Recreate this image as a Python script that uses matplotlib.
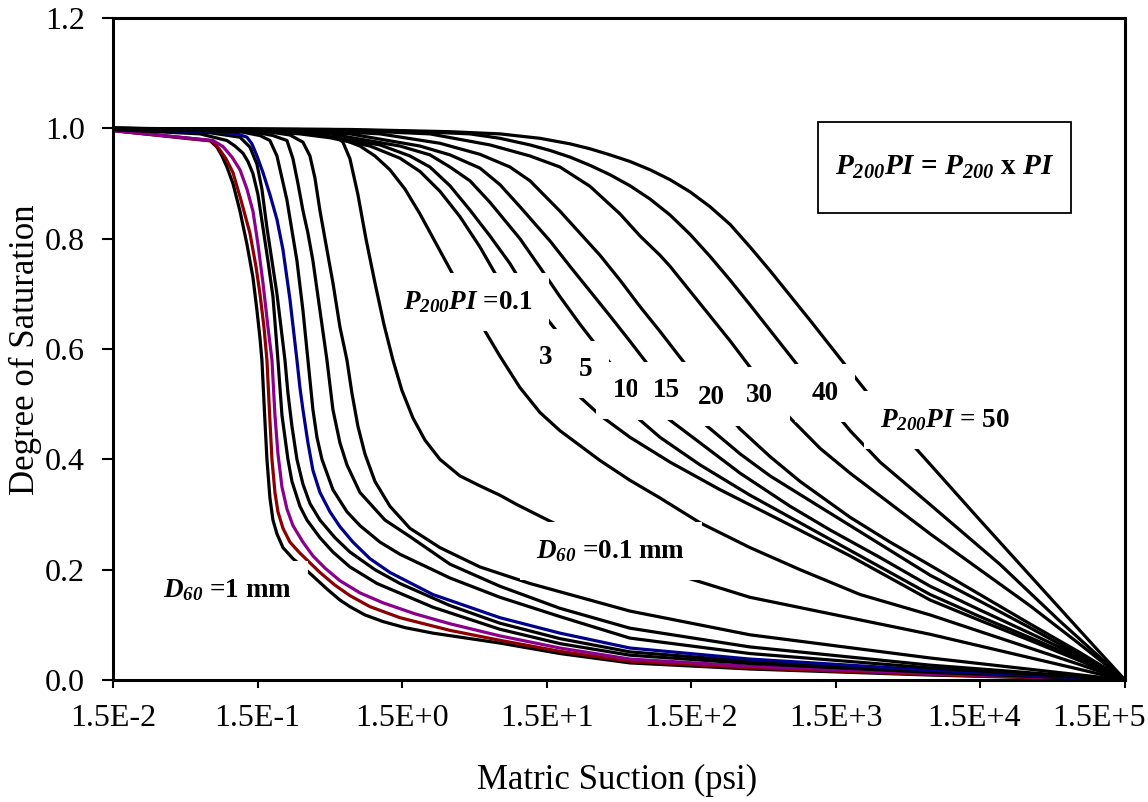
"""
    Degree of saturation vs matric suction (soil-water characteristic curves)
"""

import matplotlib
matplotlib.use('Agg')
import matplotlib.pyplot as plt
from matplotlib.patches import Rectangle
from matplotlib.ticker import NullLocator
from matplotlib.transforms import ScaledTranslation

plt.rcParams['font.family'] = ['Liberation Serif', 'DejaVu Serif']
plt.rcParams['mathtext.fontset'] = 'custom'
plt.rcParams['mathtext.rm'] = 'Liberation Serif:bold:italic'
plt.rcParams['mathtext.it'] = 'Liberation Serif:bold:italic'
plt.rcParams['mathtext.bf'] = 'Liberation Serif:bold'

# ---- granular soils (P200PI = 0), D60 from 1 mm (left) to 0.1 mm (right)
g1_psi = [0.015, 0.0511, 0.0703, 0.0786, 0.0851, 0.0921, 0.1014, 0.1134, 0.1267, 0.1394, 0.1486,
          0.1559, 0.1608, 0.1687, 0.1742, 0.1827, 0.1917, 0.2043, 0.2249, 0.2636, 0.3091, 0.453,
          0.5571, 0.6533, 0.8294, 1.105, 1.569, 2.449, 7.118, 18.52, 56.4, 381, 6700, 150000]
g1_sat = [0.996, 0.982, 0.978, 0.966, 0.95, 0.93, 0.90, 0.85, 0.79, 0.73, 0.67,
          0.62, 0.58, 0.47, 0.40, 0.33, 0.29, 0.265, 0.24, 0.22, 0.205, 0.165,
          0.145, 0.133, 0.118, 0.106, 0.095, 0.085, 0.067, 0.048, 0.031, 0.02, 0.009, 0.0]

g2_psi = [0.015, 0.0511, 0.0725, 0.0812, 0.0907, 0.1014, 0.1152, 0.1329, 0.1462, 0.1559, 0.1661,
          0.1742, 0.1827, 0.1887, 0.1979, 0.2076, 0.2249, 0.2513, 0.2946, 0.4052, 0.5145, 0.6533,
          0.8985, 1.448, 3.212, 7.118, 18.52, 56.4, 381, 6700, 150000]
g2_sat = [0.996, 0.981, 0.977, 0.963, 0.945, 0.92, 0.87, 0.81, 0.75, 0.70, 0.64,
          0.58, 0.47, 0.40, 0.34, 0.305, 0.275, 0.25, 0.23, 0.195, 0.172, 0.153,
          0.133, 0.113, 0.09, 0.072, 0.052, 0.034, 0.022, 0.01, 0.0]

g3_psi = [0.015, 0.0511, 0.0737, 0.0865, 0.0998, 0.1134, 0.1267, 0.1394, 0.151, 0.1635, 0.177,
          0.1887, 0.1979, 0.2076, 0.2213, 0.2396, 0.2636, 0.3091, 0.3624, 0.4387, 0.5571, 0.7661,
          1.105, 1.839, 3.212, 7.118, 18.52, 56.4, 381, 6700, 150000]
g3_sat = [0.996, 0.982, 0.978, 0.967, 0.948, 0.925, 0.89, 0.85, 0.79, 0.72, 0.64,
          0.58, 0.48, 0.41, 0.35, 0.31, 0.28, 0.25, 0.225, 0.203, 0.18, 0.158,
          0.14, 0.12, 0.102, 0.08, 0.058, 0.038, 0.025, 0.012, 0.0]

g4_psi = [0.015, 0.06, 0.0921, 0.1047, 0.1189, 0.1287, 0.1394, 0.151, 0.1635, 0.177, 0.1917,
          0.2076, 0.2213, 0.2321, 0.2434, 0.2594, 0.2946, 0.3294, 0.4052, 0.4983, 0.6533, 1.005,
          2.449, 7.118, 18.52, 56.4, 381, 6700, 150000]
g4_sat = [0.998, 0.99, 0.978, 0.968, 0.955, 0.94, 0.918, 0.88, 0.82, 0.76, 0.695,
          0.58, 0.48, 0.44, 0.40, 0.36, 0.315, 0.29, 0.258, 0.232, 0.205, 0.175,
          0.132, 0.092, 0.066, 0.045, 0.03, 0.014, 0.0]

g5_psi = [0.015, 0.0703, 0.1134, 0.1329, 0.1486, 0.1608, 0.1742, 0.1887, 0.2043, 0.2178, 0.2321,
          0.2434, 0.2594, 0.2809, 0.3091, 0.3455, 0.4052, 0.5145, 0.6533, 0.973, 1.448, 3.212,
          7.118, 18.52, 56.4, 381, 6700, 150000]
g5_sat = [0.998, 0.992, 0.984, 0.966, 0.935, 0.89, 0.82, 0.76, 0.70, 0.64, 0.58,
          0.52, 0.46, 0.40, 0.355, 0.32, 0.29, 0.258, 0.232, 0.20, 0.175, 0.135,
          0.103, 0.075, 0.051, 0.034, 0.016, 0.0]

g6_psi = [0.015, 0.0824, 0.1081, 0.1267, 0.1372, 0.1486, 0.1635, 0.1827, 0.2043, 0.2249, 0.2513,
          0.2809, 0.2946, 0.3091, 0.3347, 0.3624, 0.4052, 0.4751, 0.5571, 0.6852, 0.8985, 1.235,
          2.449, 7.118, 18.52, 56.4, 381, 6700, 150000]
g6_sat = [0.999, 0.993, 0.99, 0.984, 0.972, 0.95, 0.92, 0.88, 0.835, 0.78, 0.69,
          0.58, 0.53, 0.49, 0.43, 0.38, 0.34, 0.305, 0.278, 0.25, 0.22, 0.195,
          0.155, 0.113, 0.085, 0.058, 0.038, 0.018, 0.0]

g7_psi = [0.015, 0.1134, 0.1559, 0.1827, 0.2043, 0.2213, 0.2396, 0.2594, 0.2809, 0.3091, 0.3347,
          0.3624, 0.3863, 0.4184, 0.4983, 0.623, 0.7661, 1.054, 1.448, 3.212, 7.118, 18.52,
          56.4, 381, 6700, 150000]
g7_sat = [0.999, 0.994, 0.987, 0.978, 0.95, 0.91, 0.87, 0.815, 0.76, 0.67, 0.58,
          0.49, 0.44, 0.40, 0.345, 0.305, 0.28, 0.25, 0.228, 0.185, 0.15, 0.115,
          0.076, 0.048, 0.022, 0.0]

g8_psi = [0.015, 0.1329, 0.1917, 0.2396, 0.2636, 0.2855, 0.3091, 0.3347, 0.3624, 0.4052, 0.453,
          0.4983, 0.5571, 0.623, 0.7661, 1.141, 1.699, 3.212, 7.118, 18.52, 56.4, 381,
          6700, 150000]
g8_sat = [0.999, 0.995, 0.987, 0.978, 0.945, 0.90, 0.851, 0.81, 0.76, 0.67, 0.58,
          0.49, 0.43, 0.39, 0.34, 0.29, 0.26, 0.21, 0.17, 0.13, 0.094, 0.06,
          0.027, 0.0]

g9_psi = [0.015, 0.1559, 0.2513, 0.3091, 0.3455, 0.3742, 0.4052, 0.453, 0.4983, 0.5571, 0.623,
          0.6744, 0.7419, 0.8294, 0.973, 1.235, 1.699, 2.739, 5.176, 11.48, 25.45, 56.4,
          381, 6700, 150000]
g9_sat = [1.0, 0.996, 0.988, 0.975, 0.95, 0.91, 0.851, 0.78, 0.72, 0.64, 0.58,
          0.52, 0.46, 0.41, 0.36, 0.315, 0.275, 0.24, 0.205, 0.175, 0.15, 0.125,
          0.082, 0.04, 0.0]

g10_psi = [0.015, 0.2946, 0.4983, 0.5844, 0.6533, 0.7419, 0.8428, 0.973, 1.122, 1.296, 1.495,
           1.782, 2.157, 2.739, 3.765, 5.176, 7.118, 9.334, 15.78, 25.45, 69.4, 381,
           6700, 150000]
g10_sat = [1.0, 0.996, 0.99, 0.975, 0.945, 0.88, 0.80, 0.72, 0.645, 0.58, 0.525,
           0.475, 0.435, 0.40, 0.37, 0.352, 0.335, 0.318, 0.288, 0.262, 0.21, 0.15,
           0.083, 0.0]

# ---- fine-grained soils, P200PI = 0.1 ... 50
p01_psi = [0.015, 0.0824, 0.1827, 0.3455, 0.5571, 0.7661, 0.973, 1.235, 1.569, 1.992, 2.529,
           3.212, 4.078, 5.18, 7.123, 9.797, 13.47, 18.52, 35.04, 56.51, 91.13, 172.4,
           382.4, 848.1, 2206, 6729, 14860, 32900, 72900, 150000]
p01_sat = [1.0, 0.998, 0.995, 0.99, 0.982, 0.968, 0.95, 0.925, 0.89, 0.845, 0.795,
           0.745, 0.695, 0.648, 0.587, 0.53, 0.485, 0.452, 0.398, 0.362, 0.33, 0.285,
           0.24, 0.20, 0.155, 0.118, 0.088, 0.058, 0.028, 0.0]

p3_psi = [0.015, 0.0966, 0.1827, 0.2946, 0.4751, 0.8985, 1.448, 1.992, 2.739, 3.766, 5.18,
          7.123, 9.797, 13.47, 18.52, 25.47, 35.04, 56.51, 106.9, 237.1, 616.7, 1881,
          6729, 14860, 32900, 72900, 150000]
p3_sat = [1.0, 0.998, 0.994, 0.99, 0.983, 0.968, 0.946, 0.922, 0.886, 0.84, 0.785,
          0.722, 0.658, 0.60, 0.553, 0.513, 0.48, 0.44, 0.395, 0.345, 0.29, 0.225,
          0.145, 0.108, 0.072, 0.035, 0.0]

p5_psi = [0.015, 0.1134, 0.2143, 0.3455, 1.054, 1.699, 2.336, 3.212, 4.417, 6.074, 8.353,
          11.49, 15.8, 21.72, 29.88, 41.09, 56.51, 91.13, 172.4, 382.4, 848.1, 2206,
          6729, 14860, 32900, 72900, 150000]
p5_sat = [1.0, 0.998, 0.994, 0.99, 0.97, 0.95, 0.93, 0.896, 0.852, 0.805, 0.755,
          0.695, 0.648, 0.602, 0.56, 0.522, 0.487, 0.44, 0.39, 0.335, 0.285, 0.225,
          0.155, 0.115, 0.077, 0.038, 0.0]

p10_psi = [0.015, 0.1329, 0.2946, 0.4751, 1.448, 2.336, 3.212, 4.417, 6.074, 8.353, 9.797,
           13.47, 18.52, 25.47, 35.04, 48.18, 66.27, 106.9, 172.4, 326.1, 723.2, 1368,
           3034, 6729, 14860, 32900, 72900, 150000]
p10_sat = [1.0, 0.998, 0.994, 0.99, 0.968, 0.952, 0.93, 0.905, 0.866, 0.822, 0.80,
           0.748, 0.695, 0.645, 0.598, 0.552, 0.515, 0.471, 0.43, 0.375, 0.315, 0.272,
           0.222, 0.17, 0.127, 0.085, 0.042, 0.0]

p15_psi = [0.015, 0.1559, 0.3455, 0.6533, 1.992, 3.212, 5.18, 7.123, 9.797, 15.8, 21.72,
           29.88, 41.09, 56.51, 77.71, 106.9, 172.4, 326.1, 525.9, 994.6, 1881, 3558,
           6729, 14860, 32900, 72900, 150000]
p15_sat = [1.0, 0.998, 0.994, 0.99, 0.968, 0.952, 0.928, 0.898, 0.858, 0.796, 0.75,
           0.705, 0.66, 0.614, 0.567, 0.525, 0.471, 0.41, 0.37, 0.325, 0.28, 0.235,
           0.19, 0.143, 0.095, 0.045, 0.0]

p20_psi = [0.015, 0.2143, 0.5571, 1.054, 2.739, 5.18, 8.353, 11.49, 18.52, 25.47, 35.04,
           48.18, 66.27, 91.13, 125.3, 172.4, 237.1, 326.1, 525.9, 848.1, 1881, 3558,
           6729, 14860, 32900, 72900, 150000]
p20_sat = [1.0, 0.998, 0.994, 0.99, 0.973, 0.953, 0.93, 0.905, 0.85, 0.81, 0.77,
           0.725, 0.677, 0.632, 0.585, 0.54, 0.497, 0.455, 0.405, 0.36, 0.295, 0.25,
           0.208, 0.155, 0.102, 0.05, 0.0]

p30_psi = [0.015, 0.2946, 1.054, 2.336, 6.074, 11.49, 18.52, 29.88, 48.18, 66.27, 91.13,
           106.9, 147.0, 202.2, 278.0, 382.4, 525.9, 723.2, 1166, 1881, 3558, 6729,
           14860, 32900, 72900, 150000]
p30_sat = [1.0, 0.998, 0.994, 0.99, 0.97, 0.95, 0.93, 0.895, 0.845, 0.805, 0.77,
           0.75, 0.705, 0.66, 0.615, 0.567, 0.518, 0.475, 0.42, 0.375, 0.32, 0.265,
           0.20, 0.135, 0.065, 0.0]

p40_psi = [0.015, 0.4751, 1.992, 4.417, 7.123, 11.49, 15.8, 21.72, 29.88, 41.09, 56.51,
           77.71, 106.9, 147.0, 202.2, 278.0, 382.4, 525.9, 723.2, 994.6, 1368, 1881,
           3034, 6729, 20400, 53000, 150000]
p40_sat = [1.0, 0.998, 0.994, 0.99, 0.982, 0.97, 0.96, 0.948, 0.933, 0.916, 0.896,
           0.872, 0.843, 0.808, 0.768, 0.725, 0.68, 0.634, 0.588, 0.542, 0.496, 0.452,
           0.395, 0.318, 0.21, 0.107, 0.0]

p50_psi = [0.015, 0.6533, 3.212, 7.123, 13.47, 21.72, 29.88, 41.09, 56.51, 77.71, 106.9,
           147.0, 202.2, 278.0, 382.4, 525.9, 723.2, 994.6, 1368, 1881, 3034, 6729,
           14860, 32900, 72900, 150000]
p50_sat = [1.0, 0.998, 0.994, 0.99, 0.982, 0.972, 0.963, 0.952, 0.94, 0.925, 0.907,
           0.885, 0.858, 0.826, 0.785, 0.742, 0.697, 0.652, 0.606, 0.56, 0.492, 0.391,
           0.29, 0.19, 0.09, 0.0]

granular = [(g1_psi, g1_sat, 'black'), (g2_psi, g2_sat, '#8B0000'), (g3_psi, g3_sat, '#8B008B'),
            (g4_psi, g4_sat, 'black'), (g5_psi, g5_sat, 'black'), (g6_psi, g6_sat, '#00008B'),
            (g7_psi, g7_sat, 'black'), (g8_psi, g8_sat, 'black'), (g9_psi, g9_sat, 'black'),
            (g10_psi, g10_sat, 'black')]
fines = [(p01_psi, p01_sat), (p3_psi, p3_sat), (p5_psi, p5_sat), (p10_psi, p10_sat),
         (p15_psi, p15_sat), (p20_psi, p20_sat), (p30_psi, p30_sat), (p40_psi, p40_sat),
         (p50_psi, p50_sat)]

tick_psi = [0.015, 0.15, 1.5, 15, 150, 1500, 15000, 150000]
tick_text = ['1.5E-2', '1.5E-1', '1.5E+0', '1.5E+1', '1.5E+2', '1.5E+3', '1.5E+4', '1.5E+5']
sat_ticks = [0.0, 0.2, 0.4, 0.6, 0.8, 1.0, 1.2]

# curve labels: (text, suction, saturation)
curve_labels = [(r'$P_{200}PI$ =0.1', 4.28, 0.685),
                ('3', 14.8, 0.585),
                ('5', 28.0, 0.563),
                ('10', 53.0, 0.525),
                ('15', 101.6, 0.524),
                ('20', 208, 0.513),
                ('30', 447, 0.516),
                ('40', 1259, 0.520),
                (r'$P_{200}PI$ = 50', 8513, 0.471),
                (r'$D_{60}$ =0.1 mm', 41.7, 0.234),
                (r'$D_{60}$ =1 mm', 0.0921, 0.163)]

fig = plt.figure(figsize=(11.48, 8.02), dpi=100)
ax = fig.add_axes([0.0984, 0.1521, 0.8816, 0.8254])

for psi, sat in fines:
    ax.plot(psi, sat, color='black', lw=2.3, solid_joinstyle='round', zorder=2)
for psi, sat, col in granular:
    ax.plot(psi, sat, color=col, lw=2.3, solid_joinstyle='round', zorder=2)

ax.set_xscale('log')
ax.set_xlim(0.015, 150000)
ax.set_ylim(0, 1.2)
ax.set_xticks(tick_psi)
ax.set_xticklabels(tick_text)
ax.xaxis.set_minor_locator(NullLocator())
ax.set_yticks(sat_ticks)
ax.set_yticklabels(['%.1f' % v for v in sat_ticks])
ax.tick_params(axis='both', labelsize=23, direction='out', width=1.5, colors='black')
ax.tick_params(axis='x', length=6, pad=11)
ax.tick_params(axis='y', length=8, pad=12)
for s in ax.spines.values():
    s.set_linewidth(2.2)

# the two right-most x labels sit a little left of their ticks, as in the original
xticks = ax.xaxis.get_major_ticks()
for tk, shift in ((xticks[-2], -6), (xticks[-1], -26)):
    lab = tk.label1
    lab.set_transform(lab.get_transform() + ScaledTranslation(shift / 100, 0, fig.dpi_scale_trans))

for txt, x, y in curve_labels:
    ax.text(x, y, txt, fontsize=19.5, fontweight='bold', ha='center', va='center', zorder=5,
            bbox=dict(boxstyle='square,pad=0.6', facecolor='white', edgecolor='none'))

# formula box
ax.add_patch(Rectangle((0.6966, 0.7054), 0.25, 0.1375, transform=ax.transAxes,
                       facecolor='white', edgecolor='black', lw=1.3, zorder=5))
ax.text(0.8216, 0.7741, r'$P_{200}PI$ = $P_{200}$ x $PI$', transform=ax.transAxes,
        fontsize=21, fontweight='bold', ha='center', va='center', zorder=6)

fig.text(0.5375, 0.027, 'Matric Suction (psi)', fontsize=25, ha='center', va='center')
fig.text(0.022, 0.5636, 'Degree of Saturation', fontsize=25, ha='center', va='center',
         rotation=90)

fig.savefig('out.png', dpi=100)
